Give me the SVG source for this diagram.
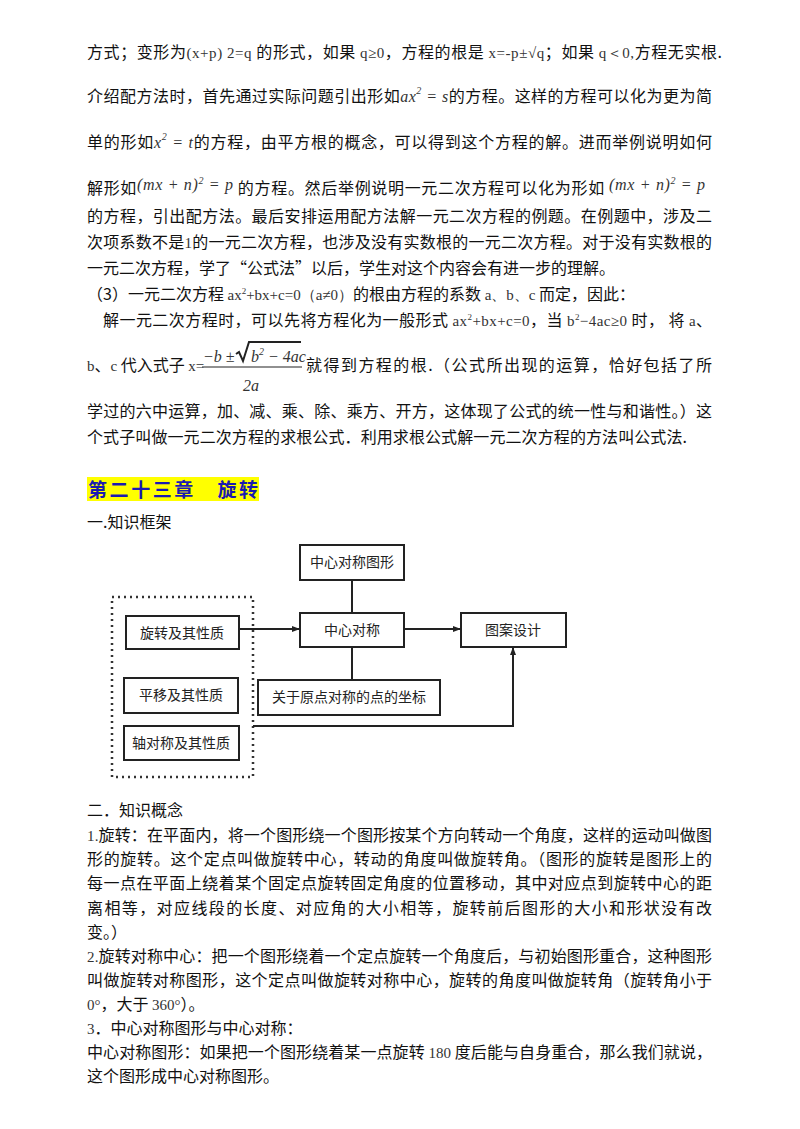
<svg xmlns="http://www.w3.org/2000/svg" width="800" height="1129" viewBox="0 0 800 1129">
<style>
.t{font-family:"Noto Sans CJK SC","Noto Sans",sans-serif;font-size:16px;fill:#111}
.m{font-family:"Liberation Serif",serif;font-size:15px;fill:#333}
.mi{font-family:"Liberation Serif",serif;font-size:16px;font-style:italic;fill:#333}
.b{font-family:"Noto Sans CJK SC",sans-serif;font-size:14px;fill:#222}
.box{fill:#fff;stroke:#222;stroke-width:2}
.ln{stroke:#222;stroke-width:2;fill:none}
</style>
<defs><marker id="ah" markerWidth="8" markerHeight="8" refX="7" refY="4" orient="auto" markerUnits="userSpaceOnUse"><path d="M0,1 L8,4 L0,7z" fill="#222"/></marker></defs>
<rect width="800" height="1129" fill="#fff"/>
<text class="t" x="87" y="58" textLength="635" lengthAdjust="spacing">方式；变形为<tspan class="m">(x+p) 2=q</tspan> 的形式，如果 <tspan class="m">q≥0</tspan>，方程的根是 <tspan class="m">x=-p±√q</tspan>；如果 <tspan class="m">q＜0,</tspan>方程无实根.</text>
<text class="t" x="87" y="102" textLength="625" lengthAdjust="spacing">介绍配方法时，首先通过实际问题引出形如<tspan class="mi">ax<tspan dy="-8" font-size="10">2</tspan><tspan dy="8"> = s</tspan></tspan>的方程。这样的方程可以化为更为简</text>
<text class="t" x="87" y="148" textLength="625" lengthAdjust="spacing">单的形如<tspan class="mi">x<tspan dy="-8" font-size="10">2</tspan><tspan dy="8"> = t</tspan></tspan>的方程，由平方根的概念，可以得到这个方程的解。进而举例说明如何</text>
<text class="t" x="87" y="194" textLength="618" lengthAdjust="spacing">解形如<tspan class="mi" dy="-4">(mx + n)<tspan dy="-6" font-size="10">2</tspan><tspan dy="6"> = p</tspan></tspan><tspan dy="4"> 的方程。然后举例说明一元二次方程可以化为形如 </tspan><tspan class="mi" dy="-4">(mx + n)<tspan dy="-6" font-size="10">2</tspan><tspan dy="6"> = p</tspan></tspan></text>
<text class="t" x="87" y="222" textLength="625" lengthAdjust="spacing">的方程，引出配方法。最后安排运用配方法解一元二次方程的例题。在例题中，涉及二</text>
<text class="t" x="87" y="248" textLength="625" lengthAdjust="spacing">次项系数不是<tspan class="m">1</tspan>的一元二次方程，也涉及没有实数根的一元二次方程。对于没有实数根的</text>
<text class="t" x="87" y="274">一元二次方程，学了“公式法”以后，学生对这个内容会有进一步的理解。</text>
<text class="t" x="87" y="300">（3）一元二次方程 <tspan class="m">ax<tspan dy="-6" font-size="9">2</tspan><tspan dy="6">+bx+c=0（a≠0）</tspan></tspan>的根由方程的系数 <tspan class="m">a、b、c</tspan> 而定，因此：</text>
<text class="t" x="103" y="326" textLength="609" lengthAdjust="spacing">解一元二次方程时，可以先将方程化为一般形式 <tspan class="m">ax<tspan dy="-6" font-size="9">2</tspan><tspan dy="6">+bx+c=0</tspan></tspan>，当 <tspan class="m">b<tspan dy="-6" font-size="9">2</tspan><tspan dy="6">−4ac≥0</tspan></tspan> 时，  将 <tspan class="m">a</tspan>、</text>
<text class="t" x="87" y="371"><tspan class="m">b</tspan>、<tspan class="m">c</tspan> 代入式子 <tspan class="m">x=</tspan></text>
<text class="mi" x="203" y="362" font-size="17">−b ±</text>
<path class="ln" stroke-width="1.2" d="M236,354 l3,-2 l4,9 l6,-19 h52"/>
<text class="mi" x="251" y="362" font-size="16">b<tspan dy="-7" font-size="10">2</tspan><tspan dy="7"> − 4ac</tspan></text>
<line x1="202" y1="367" x2="302" y2="367" stroke="#222" stroke-width="1.2"/>
<text class="mi" x="243" y="391" font-size="17">2a</text>
<text class="t" x="306" y="371" textLength="406" lengthAdjust="spacing">就得到方程的根.（公式所出现的运算，恰好包括了所</text>
<text class="t" x="87" y="417" textLength="625" lengthAdjust="spacing">学过的六中运算，加、减、乘、除、乘方、开方，这体现了公式的统一性与和谐性。）这</text>
<text class="t" x="87" y="443" textLength="600" lengthAdjust="spacing">个式子叫做一元二次方程的求根公式．利用求根公式解一元二次方程的方法叫公式法.</text>
<rect x="87" y="477" width="172" height="24" fill="#ffff00"/>
<text x="88" y="497" font-family="Noto Sans CJK SC,sans-serif" font-size="19" font-weight="bold" fill="#1a1ab0" textLength="170" lengthAdjust="spacing">第二十三章　旋转</text>
<text class="t" x="87" y="528">一.知识框架</text>
<g id="group-dotted"><rect x="112" y="597" width="141" height="180" fill="none" stroke="#333" stroke-width="2.5" stroke-dasharray="2,4"/></g>
<g id="n1"><rect class="box" x="300" y="545" width="104" height="35"/><text class="b" x="352" y="567" text-anchor="middle">中心对称图形</text></g>
<g id="n2"><rect class="box" x="300" y="613" width="104" height="34"/><text class="b" x="352" y="635" text-anchor="middle">中心对称</text></g>
<g id="n3"><rect class="box" x="461" y="613" width="105" height="34"/><text class="b" x="513" y="635" text-anchor="middle">图案设计</text></g>
<g id="n4"><rect class="box" x="126" y="616" width="113" height="33"/><text class="b" x="182" y="638" text-anchor="middle">旋转及其性质</text></g>
<g id="n5"><rect class="box" x="124" y="678" width="114" height="35"/><text class="b" x="181" y="700" text-anchor="middle">平移及其性质</text></g>
<g id="n6"><rect class="box" x="124" y="726" width="115" height="34"/><text class="b" x="181" y="748" text-anchor="middle">轴对称及其性质</text></g>
<g id="n7"><rect class="box" x="258" y="680" width="182" height="35"/><text class="b" x="349" y="702" text-anchor="middle">关于原点对称的点的坐标</text></g>
<g id="connectors">
<line class="ln" x1="352" y1="580" x2="352" y2="613"/>
<line class="ln" x1="352" y1="647" x2="352" y2="680"/>
<line class="ln" x1="239" y1="629" x2="299" y2="629" marker-end="url(#ah)"/>
<line class="ln" x1="404" y1="629" x2="460" y2="629" marker-end="url(#ah)"/>
<polyline class="ln" points="253,726 513,726 513,648" marker-end="url(#ah)"/>
</g>
<text class="t" x="87" y="816">二．知识概念</text>
<text class="t" x="87" y="841" textLength="625" lengthAdjust="spacing"><tspan class="m">1.</tspan>旋转：在平面内，将一个图形绕一个图形按某个方向转动一个角度，这样的运动叫做图</text>
<text class="t" x="87" y="865" textLength="625" lengthAdjust="spacing">形的旋转。这个定点叫做旋转中心，转动的角度叫做旋转角。（图形的旋转是图形上的</text>
<text class="t" x="87" y="889" textLength="625" lengthAdjust="spacing">每一点在平面上绕着某个固定点旋转固定角度的位置移动，其中对应点到旋转中心的距</text>
<text class="t" x="87" y="914" textLength="625" lengthAdjust="spacing">离相等，对应线段的长度、对应角的大小相等，旋转前后图形的大小和形状没有改</text>
<text class="t" x="87" y="938">变。）</text>
<text class="t" x="87" y="962" textLength="625" lengthAdjust="spacing"><tspan class="m">2.</tspan>旋转对称中心：把一个图形绕着一个定点旋转一个角度后，与初始图形重合，这种图形</text>
<text class="t" x="87" y="986" textLength="625" lengthAdjust="spacing">叫做旋转对称图形，这个定点叫做旋转对称中心，旋转的角度叫做旋转角（旋转角小于</text>
<text class="t" x="87" y="1010"><tspan class="m">0°</tspan>，大于 <tspan class="m">360°</tspan>）。</text>
<text class="t" x="87" y="1034"><tspan class="m">3</tspan>．中心对称图形与中心对称：</text>
<text class="t" x="87" y="1058" textLength="625" lengthAdjust="spacing">中心对称图形：如果把一个图形绕着某一点旋转 <tspan class="m">180</tspan> 度后能与自身重合，那么我们就说，</text>
<text class="t" x="87" y="1082">这个图形成中心对称图形。</text>
</svg>
